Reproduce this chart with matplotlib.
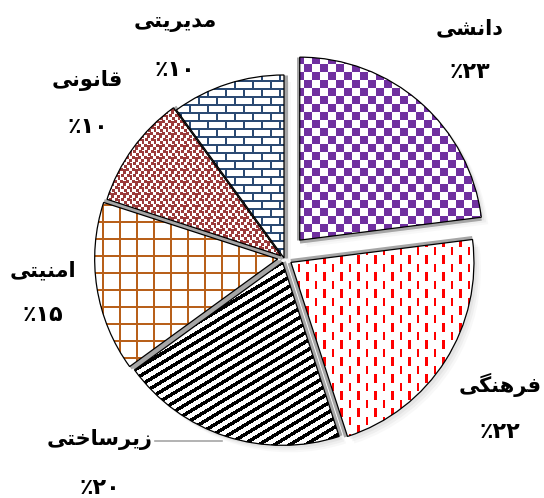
import numpy as np
import matplotlib
matplotlib.use("Agg")
import matplotlib.pyplot as plt
from matplotlib.patches import Wedge

# ---------- data ----------
categories = ["دانشی", "فرهنگی", "زیرساختی", "امنیتی", "قانونی", "مدیریتی"]
values = [23, 22, 20, 15, 10, 10]
explode = [0.13, 0.045, 0.025, 0.035, 0.02, 0.0]

# ---------- persian shaping (no reshaper lib available) ----------
FORMS = {
    'ا': ('\uFE8D', '\uFE8E', None, None),
    'د': ('\uFEA9', '\uFEAA', None, None),
    'ر': ('\uFEAD', '\uFEAE', None, None),
    'ز': ('\uFEAF', '\uFEB0', None, None),
    'و': ('\uFEED', '\uFEEE', None, None),
    'ن': ('\uFEE5', '\uFEE6', '\uFEE7', '\uFEE8'),
    'ش': ('\uFEB5', '\uFEB6', '\uFEB7', '\uFEB8'),
    'س': ('\uFEB1', '\uFEB2', '\uFEB3', '\uFEB4'),
    'خ': ('\uFEA5', '\uFEA6', '\uFEA7', '\uFEA8'),
    'ت': ('\uFE95', '\uFE96', '\uFE97', '\uFE98'),
    'م': ('\uFEE1', '\uFEE2', '\uFEE3', '\uFEE4'),
    'ق': ('\uFED5', '\uFED6', '\uFED7', '\uFED8'),
    'ف': ('\uFED1', '\uFED2', '\uFED3', '\uFED4'),
    'ه': ('\uFEE9', '\uFEEA', '\uFEEB', '\uFEEC'),
    'ی': ('\uFBFC', '\uFBFD', '\uFBFE', '\uFBFF'),
    'گ': ('\uFB92', '\uFB93', '\uFB94', '\uFB95'),
}


def shape(word):
    out = []
    for i, ch in enumerate(word):
        prev = i > 0 and FORMS[word[i - 1]][2] is not None
        nxt = i < len(word) - 1 and FORMS[ch][2] is not None
        f = FORMS[ch]
        if prev and nxt:
            out.append(f[3])
        elif prev:
            out.append(f[1])
        elif nxt:
            out.append(f[2])
        else:
            out.append(f[0])
    return ''.join(reversed(out))


def fa_pct(v):
    digits = str(v).translate(str.maketrans("0123456789", "۰۱۲۳۴۵۶۷۸۹"))
    return "٪" + digits


# ---------- textures ----------
W, H = 544, 498
yy, xx = np.mgrid[0:H, 0:W].astype(float)


def tex(mask, color):
    img = np.ones((H, W, 3))
    c = np.array(matplotlib.colors.to_rgb(color))
    img[mask] = c
    return img


checker = ((xx // 8 + yy // 8) % 2 == 0)
col = np.floor(xx / 8.5)
dashes = ((xx % 8.5) < 2.2) & (((yy + (col % 2) * 8.5) % 17) < 8.5)
a = np.deg2rad(31)
stripes = ((xx * np.sin(a) + yy * np.cos(a)) % 8) < 3.6
grid = ((xx % 17) < 1.4) | ((yy % 17) < 1.4)
tile = np.zeros((12, 12), bool)
for (r, c) in [(0, 0), (0, 6), (3, 3), (3, 9), (6, 1), (6, 7), (9, 4), (9, 10), (1, 3), (7, 10)]:
    tile[r:r + 3, c:c + 3] = True
confetti = tile[(yy.astype(int) % 12), (xx.astype(int) % 12)]
row = yy // 8
bricks = ((yy % 8) < 2) | (((xx + (row % 2) * 9) % 18) < 2)

textures = [
    tex(checker, "#7030A0"),
    tex(dashes, "#FF0000"),
    tex(stripes, "#000000"),
    tex(grid, "#B8601A"),
    tex(confetti, "#9B3A3A"),
    tex(bricks, "#2B4A73"),
]

# ---------- layout ----------
label_pos = [(470, 28), (500, 385), (100, 440), (43, 270), (87, 80), (175, 22)]
pct_pos = [(470, 72), (500, 432), (100, 488), (43, 315), (88, 127), (175, 70)]

fig = plt.figure(figsize=(5.44, 4.98), dpi=100)
ax = fig.add_axes([0, 0, 1, 1])
cx, cy, R = 284, 240, 183

# pie's explode is in data units, so scale the fractions by the radius
wedges, _ = ax.pie(values, explode=[e * R for e in explode], center=(cx, cy), radius=R,
                   startangle=90, counterclock=False,
                   wedgeprops=dict(facecolor="white", edgecolor="none"))

for i, w in enumerate(wedges):
    w.set_zorder(2)
    # soft shadow
    for k, al in [(7, 0.05), (5, 0.07), (3, 0.09)]:
        sh = Wedge((w.center[0] + k, w.center[1] - k), w.r, w.theta1, w.theta2,
                   facecolor="gray", edgecolor="none", alpha=al, zorder=1)
        ax.add_patch(sh)
    # grey bevel along the two straight sides
    for th in (w.theta1, w.theta2):
        t = np.deg2rad(th)
        ax.plot([w.center[0], w.center[0] + w.r * np.cos(t)],
                [w.center[1], w.center[1] + w.r * np.sin(t)],
                color="#A6A6A6", lw=5, solid_capstyle="butt", zorder=2.5)
    im = ax.imshow(textures[i], extent=(0, W, 0, H), origin="upper",
                   interpolation="nearest", zorder=3)
    im.set_clip_path(w)
    ol = Wedge(w.center, w.r, w.theta1, w.theta2, fill=False,
               edgecolor="black", linewidth=0.9, zorder=4)
    ax.add_patch(ol)

for i, name in enumerate(categories):
    lx, ly = label_pos[i]
    px, py = pct_pos[i]
    ax.text(lx, H - ly, shape(name), ha="center", va="center",
            fontsize=15, fontweight="bold", family=["DejaVu Sans"])
    ax.text(px, H - py, fa_pct(values[i]), ha="center", va="center",
            fontsize=16, fontweight="bold", family=["DejaVu Sans"])

# leader line for زیرساختی
ax.plot([155, 222], [H - 441, H - 441], color="#A6A6A6", lw=1.2, zorder=5)

ax.set_xlim(0, W)
ax.set_ylim(0, H)
ax.set_aspect("equal")
ax.axis("off")
fig.savefig("out.png", dpi=100)
